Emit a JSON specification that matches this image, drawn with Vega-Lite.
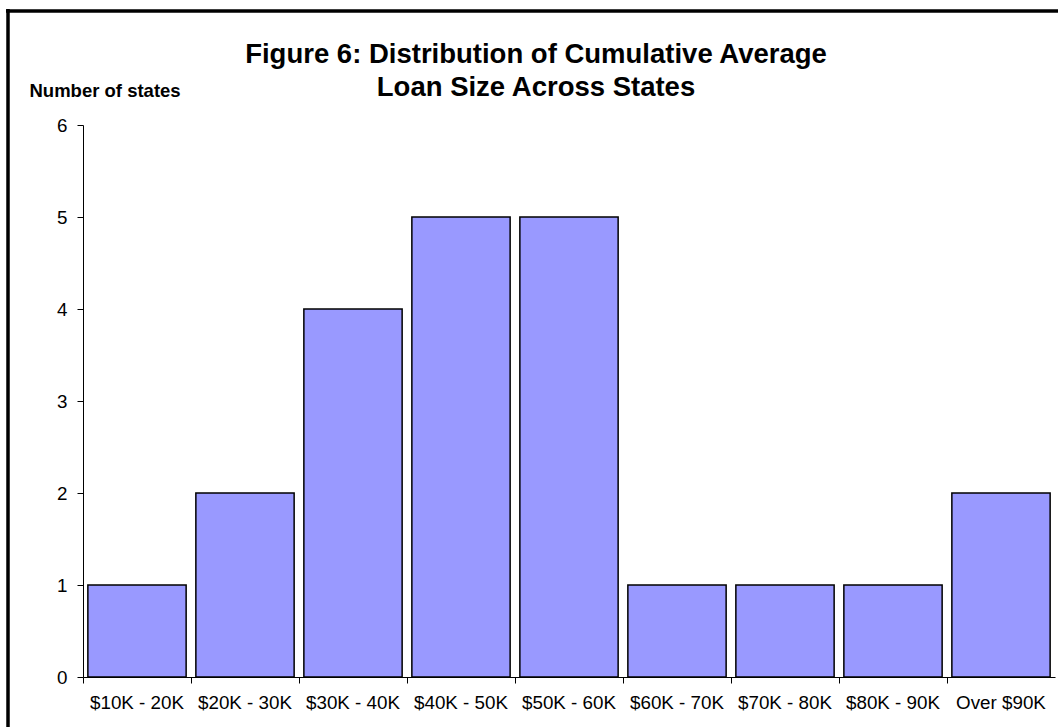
{
  "$schema": "https://vega.github.io/schema/vega-lite/v6.json",
  "width": 972,
  "height": 552,
  "autosize": {"type": "none"},
  "padding": {"left": 83, "top": 125, "right": 3, "bottom": 50},
  "background": "white",
  "config": {
    "font": "Liberation Sans",
    "view": {"stroke": null}
  },
  "title": {
    "text": ["Figure 6: Distribution of Cumulative Average", "Loan Size Across States"],
    "fontSize": 27.5,
    "fontWeight": "bold",
    "lineHeight": 32.5,
    "color": "black",
    "anchor": "middle",
    "frame": "group",
    "dx": -33,
    "dy": 94,
    "offset": 0
  },
  "layer": [
    {
      "data": {
        "values": [
          {"range": "$10K - 20K", "states": 1},
          {"range": "$20K - 30K", "states": 2},
          {"range": "$30K - 40K", "states": 4},
          {"range": "$40K - 50K", "states": 5},
          {"range": "$50K - 60K", "states": 5},
          {"range": "$60K - 70K", "states": 1},
          {"range": "$70K - 80K", "states": 1},
          {"range": "$80K - 90K", "states": 1},
          {"range": "Over $90K", "states": 2}
        ]
      },
      "mark": {"type": "bar", "fill": "#9999FF", "stroke": "black", "strokeWidth": 1.5},
      "encoding": {
        "x": {
          "field": "range",
          "type": "nominal",
          "sort": null,
          "scale": {"paddingInner": 0.09, "paddingOuter": 0.045},
          "axis": {
            "title": null,
            "labelAngle": 0,
            "labelFontSize": 18.8,
            "labelColor": "black",
            "labelPadding": 10,
            "tickSize": 6,
            "tickColor": "black",
            "domainColor": "black",
            "bandPosition": -0.0494,
            "grid": false
          }
        },
        "y": {
          "field": "states",
          "type": "quantitative",
          "scale": {"domain": [0, 6], "nice": false},
          "axis": {
            "values": [0, 1, 2, 3, 4, 5, 6],
            "title": "Number of states",
            "titleAngle": 0,
            "titleAlign": "left",
            "titleBaseline": "alphabetic",
            "titleX": -54,
            "titleY": -29,
            "titleFontSize": 18.5,
            "titleFontWeight": "bold",
            "titleColor": "black",
            "labelFontSize": 18.8,
            "labelColor": "black",
            "labelPadding": 10,
            "tickSize": 6,
            "tickColor": "black",
            "domainColor": "black",
            "grid": false
          }
        }
      }
    },
    {
      "data": {"values": [{"side": "left"}]},
      "mark": {"type": "rule", "stroke": "black", "strokeWidth": 3.5},
      "encoding": {
        "x": {"value": -75},
        "y": {"value": -116},
        "y2": {"value": 610}
      }
    },
    {
      "data": {"values": [{"side": "top"}]},
      "mark": {"type": "rule", "stroke": "black", "strokeWidth": 3.5},
      "encoding": {
        "x": {"value": -77},
        "x2": {"value": 980},
        "y": {"value": -114}
      }
    }
  ]
}
